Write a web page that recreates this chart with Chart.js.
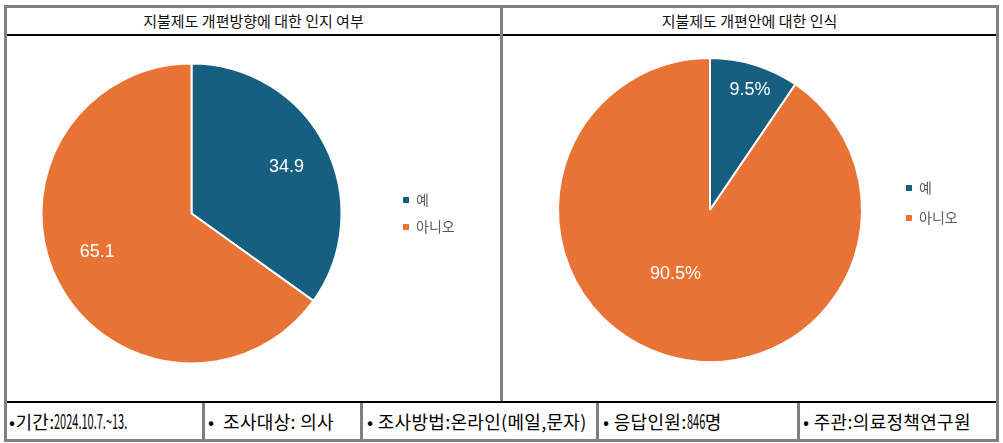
<!DOCTYPE html>
<html>
<head>
<meta charset="utf-8">
<script src="https://cdn.jsdelivr.net/npm/chart.js"></script>
<style>
  body { margin: 0; background: #fff; width: 1003px; height: 443px; overflow: hidden; position: relative; font-family: "Noto Sans CJK KR", sans-serif; }
  .ln { position: absolute; z-index: 5; }
  .gray { background: #808080; }
  .black { background: #000; }
  .title { position: absolute; top: 8px; height: 26px; line-height: 26px; text-align: center; font-size: 15px; color: #111; }
  .cell { position: absolute; top: 403px; height: 36px; line-height: 36px; font-size: 18px; letter-spacing: 0.3px; color: #000; white-space: nowrap; }
  .num { display: inline-block; font-size: 20px; letter-spacing: 0; transform: scaleX(0.55); transform-origin: left center; }
  .box { position: absolute; top: 36px; height: 365px; }
</style>
</head>
<body>

<div class="title" style="left:7px;width:493px;">지불제도 개편방향에 대한 인지 여부</div>
<div class="title" style="left:503px;width:493px;">지불제도 개편안에 대한 인식</div>

<div class="box" style="left:-7px;width:497px;"><canvas id="chart-left"></canvas></div>
<div class="box" style="left:502px;width:488px;"><canvas id="chart-right"></canvas></div>

<div class="cell" style="left:9px;">•기간:<span class="num">2024.10.7.~13.</span></div>
<div class="cell" style="left:208px;">•&nbsp;&nbsp;조사대상: 의사</div>
<div class="cell" style="left:367px;">• 조사방법:온라인(메일,문자)</div>
<div class="cell" style="left:603px;">• 응답인원:<span class="num" style="margin-right:-15px;">846</span>명</div>
<div class="cell" style="left:803px;">• 주관:의료정책연구원</div>

<!-- frame lines -->
<div class="ln gray" style="left:4px;top:5px;width:995px;height:3px;"></div>
<div class="ln gray" style="left:4px;top:439px;width:995px;height:3px;"></div>
<div class="ln gray" style="left:4px;top:5px;width:3px;height:437px;"></div>
<div class="ln gray" style="left:996px;top:5px;width:3px;height:437px;"></div>
<div class="ln black" style="left:7px;top:34px;width:989px;height:2px;"></div>
<div class="ln black" style="left:7px;top:401px;width:989px;height:2px;"></div>
<div class="ln gray" style="left:500px;top:5px;width:3px;height:396px;"></div>
<div class="ln gray" style="left:202px;top:403px;width:3px;height:36px;"></div>
<div class="ln gray" style="left:360px;top:403px;width:3px;height:36px;"></div>
<div class="ln gray" style="left:596px;top:403px;width:3px;height:36px;"></div>
<div class="ln gray" style="left:797px;top:403px;width:3px;height:36px;"></div>

<script>
// data
var answerLabels = ['예', '아니오'];
var awarenessValues = [34.9, 65.1];   // 지불제도 개편방향에 대한 인지 여부
var perceptionValues = [9.5, 90.5];   // 지불제도 개편안에 대한 인식
var sliceColors = ['#175F80', '#E97334'];

// draws the value inside each slice
var sliceLabels = {
    id: 'sliceLabels',
    afterDatasetsDraw: function(chart, args, opts) {
        var ctx = chart.ctx;
        var meta = chart.getDatasetMeta(0);
        var values = chart.data.datasets[0].data;
        ctx.save();
        ctx.font = '18px "Liberation Sans", Arial, sans-serif';
        ctx.fillStyle = '#fff';
        ctx.textAlign = 'center';
        ctx.textBaseline = 'middle';
        meta.data.forEach(function(arc, i) {
            var mid = (arc.startAngle + arc.endAngle) / 2 + opts.shift[i] * Math.PI / 180;
            var r = arc.outerRadius * opts.dist[i];
            var txt = values[i].toFixed(1) + opts.suffix;
            ctx.fillText(txt, arc.x + Math.cos(mid) * r, arc.y + Math.sin(mid) * r);
        });
        ctx.restore();
    }
};

function legendItems(chart) {
    var items = Chart.overrides.pie.plugins.legend.labels.generateLabels(chart);
    items.forEach(function(it) { it.lineWidth = 0; });
    return items;
}

// pie area is padLeft..padLeft+areaWidth inside the canvas, legend right after it
function makePie(id, values, radius, canvasWidth, padLeft, areaWidth, padTop, padBottom, legendAlign, legendGap, labelOpts) {
    var chart = new Chart(document.getElementById(id), {
        type: 'pie',
        data: {
            labels: answerLabels,
            datasets: [{
                data: values,
                backgroundColor: sliceColors,
                borderColor: '#fff',
                borderWidth: 2,
                radius: radius,
                clip: false
            }]
        },
        options: {
            responsive: true,
            maintainAspectRatio: false,
            animation: false,
            layout: { padding: { left: padLeft, right: 20, top: padTop, bottom: padBottom } },
            plugins: {
                tooltip: { enabled: false },
                legend: {
                    position: 'right',
                    align: legendAlign,
                    labels: {
                        boxWidth: 6,
                        boxHeight: 6,
                        padding: legendGap,
                        color: '#595959',
                        font: { size: 14, family: '"Noto Sans CJK KR", sans-serif' },
                        generateLabels: legendItems
                    }
                },
                sliceLabels: labelOpts
            }
        },
        plugins: [sliceLabels]
    });
    chart.options.layout.padding.right = canvasWidth - padLeft - areaWidth - chart.legend.width;
    chart.update();
    return chart;
}

makePie('chart-left', awarenessValues, 150, 497, 0, 397, 20, 30, 'center', 13,
    { dist: [0.705, 0.68], shift: [1, 4.8], suffix: '' });

makePie('chart-right', perceptionValues, 152, 488, 28, 360, 129, 146, 'start', 16,
    { dist: [0.835, 0.48], shift: [1.3, 11.2], suffix: '%' });
</script>
</body>
</html>
